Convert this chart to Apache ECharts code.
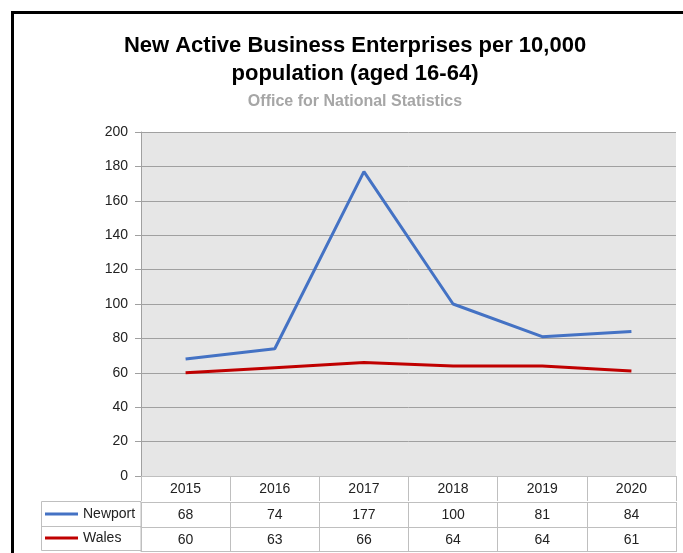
<!DOCTYPE html>
<html>
<head>
<meta charset="utf-8">
<script src="https://cdn.jsdelivr.net/npm/echarts@6/dist/echarts.min.js"></script>
<style>
  html, body { margin: 0; padding: 0; background: #fff; }
  #chart { width: 683px; height: 553px; }
</style>
</head>
<body>
<div id="chart"></div>
<script>
const years = ["2015", "2016", "2017", "2018", "2019", "2020"];
const newport = [68, 74, 177, 100, 81, 84];
const wales = [60, 63, 66, 64, 64, 61];
const yTicks = { min: 0, max: 200, interval: 20 };

const font = "Liberation Sans";
const tableLine = "#bfbfbf";

// one x axis per table row, the ticks make the cell borders
function tableAxis(data, offset, showLabel) {
  return {
    type: "category",
    data: data,
    position: "bottom",
    offset: offset,
    boundaryGap: true,
    axisLine: { show: true, lineStyle: { color: tableLine, width: 1 } },
    axisTick: { show: true, length: 25, interval: 0, lineStyle: { color: tableLine } },
    axisLabel: {
      show: showLabel,
      interval: 0,
      margin: 6,
      fontFamily: font,
      fontSize: 14,
      color: "#222",
    },
    splitLine: { show: false },
  };
}

const chart = echarts.init(document.getElementById("chart"));
chart.setOption({
  animation: false,
  backgroundColor: "#fff",
  title: {
    text: "New Active Business Enterprises per 10,000\npopulation (aged 16-64)",
    subtext: "Office for National Statistics",
    left: 350,
    top: 27,
    textAlign: "center",
    itemGap: 5,
    textStyle: {
      fontFamily: font,
      fontSize: 22,
      fontWeight: "bold",
      color: "#000",
      lineHeight: 28,
    },
    subtextStyle: {
      fontFamily: font,
      fontSize: 16,
      fontWeight: "bold",
      color: "#a6a6a6",
      lineHeight: 18,
    },
  },
  legend: {
    orient: "vertical",
    left: 45,
    top: 507,
    padding: 0,
    itemGap: 10,
    itemWidth: 33,
    itemHeight: 3,
    icon: "rect",
    textStyle: { fontFamily: font, fontSize: 14, color: "#222" },
    data: ["Newport", "Wales"],
  },
  grid: {
    left: 141,
    right: 7,
    top: 132,
    bottom: 77,
    show: true,
    backgroundColor: "#e6e6e6",
    borderWidth: 0,
  },
  xAxis: [
    tableAxis(years, 0, true),
    tableAxis(newport.map(String), 26, true),
    tableAxis(wales.map(String), 51, true),
    Object.assign(tableAxis(years, 75, false), { axisTick: { show: false } }),
  ],
  yAxis: {
    type: "value",
    min: yTicks.min,
    max: yTicks.max,
    interval: yTicks.interval,
    axisLine: { show: true, lineStyle: { color: "#a0a0a0" } },
    axisTick: { show: true, length: 6, lineStyle: { color: "#a0a0a0" } },
    axisLabel: { fontFamily: font, fontSize: 14, color: "#222", margin: 13 },
    splitLine: { lineStyle: { color: "#a0a0a0", width: 1 } },
  },
  series: [
    {
      name: "Newport",
      type: "line",
      data: newport,
      symbol: "none",
      lineStyle: { color: "#4472c4", width: 3 },
      itemStyle: { color: "#4472c4" },
    },
    {
      name: "Wales",
      type: "line",
      data: wales,
      symbol: "none",
      lineStyle: { color: "#c00000", width: 3 },
      itemStyle: { color: "#c00000" },
    },
  ],
  graphic: [
    // black frame, cut off at the right and bottom
    {
      type: "rect",
      shape: { x: 12.5, y: 12.5, width: 720, height: 600 },
      style: { fill: null, stroke: "#000", lineWidth: 3 },
      silent: true,
    },
    // legend column of the data table
    {
      type: "rect",
      shape: { x: 41.5, y: 501.5, width: 99.5, height: 49 },
      style: { fill: null, stroke: tableLine, lineWidth: 1 },
      silent: true,
    },
    {
      type: "line",
      shape: { x1: 41.5, y1: 526.5, x2: 141, y2: 526.5 },
      style: { stroke: tableLine, lineWidth: 1 },
      silent: true,
    },
  ],
});
</script>
</body>
</html>
